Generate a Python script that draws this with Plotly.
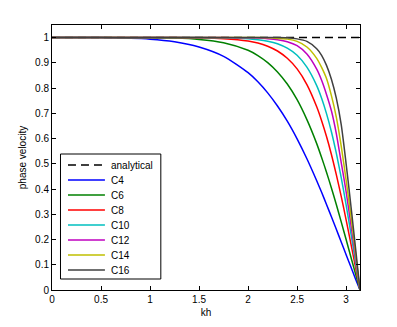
import plotly.graph_objects as go

# kh samples and phase velocities
kh = [0, 0.5, 1.0, 1.25, 1.5, 1.75, 2.0, 2.1, 2.2, 2.3, 2.4, 2.5, 2.6, 2.7, 2.75, 2.8,
      2.85, 2.9, 2.95, 3.0, 3.05, 3.1, 3.1416]

analytical = [1.0] * len(kh)

c4 = [1, 1.0, 0.994, 0.984, 0.963, 0.926, 0.861, 0.825, 0.781, 0.729, 0.669, 0.599, 0.520,
      0.433, 0.387, 0.339, 0.290, 0.241, 0.190, 0.140, 0.090, 0.040, 0]
c6 = [1, 1, 0.999, 0.998, 0.993, 0.980, 0.950, 0.929, 0.901, 0.864, 0.816, 0.754, 0.675,
      0.580, 0.525, 0.467, 0.404, 0.339, 0.270, 0.200, 0.129, 0.058, 0]
c8 = [1, 1, 1, 1, 0.999, 0.996, 0.987, 0.979, 0.966, 0.947, 0.918, 0.876, 0.814,
      0.726, 0.671, 0.608, 0.537, 0.457, 0.371, 0.278, 0.181, 0.082, 0]
c10 = [1, 1, 1, 1, 1, 0.999, 0.996, 0.992, 0.986, 0.976, 0.958, 0.930, 0.883,
       0.810, 0.760, 0.699, 0.627, 0.542, 0.445, 0.337, 0.221, 0.101, 0]
c12 = [1, 1, 1, 1, 1, 1, 0.999, 0.998, 0.996, 0.992, 0.984, 0.968, 0.935,
       0.875, 0.831, 0.775, 0.710, 0.620, 0.505, 0.390, 0.256, 0.118, 0]
c14 = [1, 1, 1, 1, 1, 1, 1, 1, 0.999, 0.997, 0.994, 0.985, 0.963,
       0.918, 0.882, 0.838, 0.770, 0.685, 0.570, 0.435, 0.290, 0.133, 0]
c16 = [1, 1, 1, 1, 1, 1, 1, 1, 1, 1, 0.999, 0.995, 0.985,
       0.956, 0.930, 0.890, 0.835, 0.760, 0.655, 0.500, 0.330, 0.152, 0]

series = [("C4", c4, "rgb(0,0,255)"),
          ("C6", c6, "rgb(0,128,0)"),
          ("C8", c8, "rgb(255,0,0)"),
          ("C10", c10, "rgb(0,191,191)"),
          ("C12", c12, "rgb(191,0,191)"),
          ("C14", c14, "rgb(191,191,0)"),
          ("C16", c16, "rgb(64,64,64)")]

fig = go.Figure()

fig.add_trace(go.Scatter(x=kh, y=analytical, mode="lines", name="analytical",
                         line=dict(color="black", width=1.5, dash="8px,5px")))

for name, vals, col in series:
    fig.add_trace(go.Scatter(x=kh, y=vals, mode="lines", name=name,
                             line=dict(color=col, width=1.5, shape="spline", smoothing=0.7)))

# page has an 8px body margin, so the figure is a bit smaller than the window
L, R, T, B = 44, 36.5, 17, 37
FW, FH = 389, 319
W, H = FW - L - R, FH - T - B

# matlab-style legend box (plotly's own legend rows are too tall), drawn in paper coords
def px(x):
    return (x - 8 - L) / W
def py(y):
    return (FH - B + 8 - y) / H

shapes = [dict(type="rect", xref="paper", yref="paper", x0=px(60.5), x1=px(161),
               y0=py(279), y1=py(154), line=dict(color="black", width=1),
               fillcolor="white", layer="above")]
annotations = []
entries = [("analytical", "black", "dash")] + [(n, c, "solid") for n, _, c in series]
for i, (name, col, dash) in enumerate(entries):
    yy = 165 + 15 * i
    shapes.append(dict(type="line", xref="paper", yref="paper", x0=px(68), x1=px(105),
                       y0=py(yy), y1=py(yy), layer="above",
                       line=dict(color=col, width=1.5, dash="8px,5px" if dash == "dash" else "solid")))
    annotations.append(dict(xref="paper", yref="paper", x=px(109), y=py(yy), text=name,
                            showarrow=False, xanchor="left", yanchor="middle",
                            font=dict(size=10, color="black")))

axis_style = dict(showline=True, linecolor="black", linewidth=1, mirror="ticks",
                  ticks="inside", ticklen=4, tickcolor="black", showgrid=False,
                  zeroline=False, automargin=False, tickfont=dict(size=10, color="black"))

fig.update_xaxes(range=[0, 3.1416], tickvals=[0, 0.5, 1, 1.5, 2, 2.5, 3],
                 ticktext=["0", "0.5", "1", "1.5", "2", "2.5", "3"],
                 title=dict(text="kh", font=dict(size=10, color="black"), standoff=4),
                 **axis_style)
fig.update_yaxes(range=[0, 1.05], tickvals=[0, 0.1, 0.2, 0.3, 0.4, 0.5, 0.6, 0.7, 0.8, 0.9, 1],
                 ticktext=["0", "0.1", "0.2", "0.3", "0.4", "0.5", "0.6", "0.7", "0.8", "0.9", "1"],
                 title=dict(text="phase velocity", font=dict(size=10, color="black"), standoff=6),
                 **axis_style)

fig.update_layout(width=FW, height=FH, showlegend=False,
                  margin=dict(l=L, r=R, t=T, b=B),
                  paper_bgcolor="white", plot_bgcolor="white",
                  font=dict(family="Liberation Sans, Arial, sans-serif", size=10, color="black"),
                  shapes=shapes, annotations=annotations)

fig.write_html("out.html")
